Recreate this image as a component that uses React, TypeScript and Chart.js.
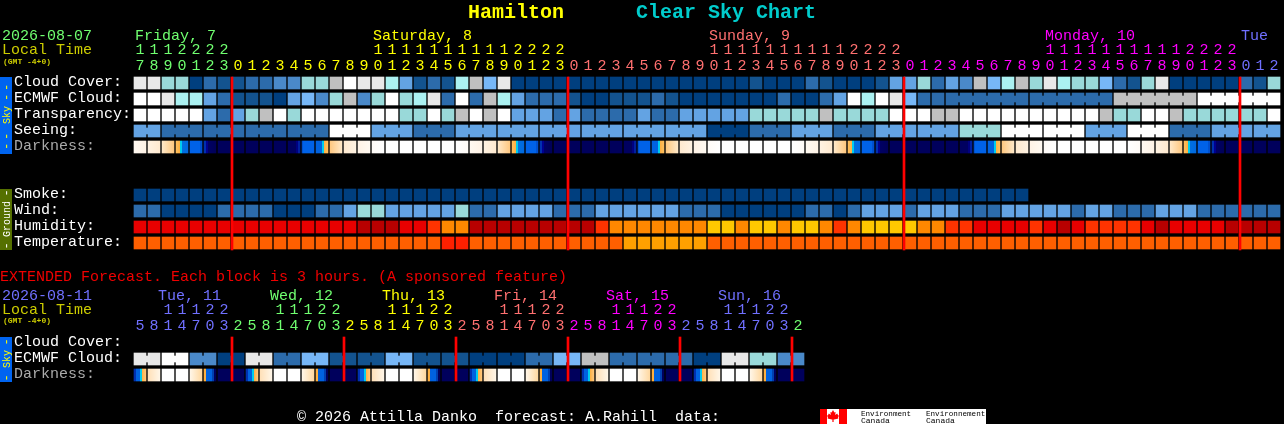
import React, { useEffect, useRef } from "react";
import { Chart, registerables } from "chart.js";

Chart.register(...registerables);

// ---------- data ----------
const hourTens = ["1","1","1","2","2","2","2",
  "","","","","","","","","","","1","1","1","1","1","1","1","1","1","1","2","2","2","2",
  "","","","","","","","","","","1","1","1","1","1","1","1","1","1","1","2","2","2","2",
  "","","","","","","","","","","1","1","1","1","1","1","1","1","1","1","2","2","2","2",
  "","",""];
const hourUnits = ["7","8","9","0","1","2","3",
  "0","1","2","3","4","5","6","7","8","9","0","1","2","3","4","5","6","7","8","9","0","1","2","3",
  "0","1","2","3","4","5","6","7","8","9","0","1","2","3","4","5","6","7","8","9","0","1","2","3",
  "0","1","2","3","4","5","6","7","8","9","0","1","2","3","4","5","6","7","8","9","0","1","2","3",
  "0","1","2"];
const dayNames = ["Friday, 7", "Saturday, 8", "Sunday, 9", "Monday, 10", "Tue"];
const dayNameCols = [0, 17, 41, 65, 79];
const dayStartCols = [0, 7, 31, 55, 79];
const midnightCols = [7, 31, 55, 79];

const skyRowLabels = ["Cloud Cover:", "ECMWF Cloud:", "Transparency:", "Seeing:", "Darkness:"];
const groundRowLabels = ["Smoke:", "Wind:", "Humidity:", "Temperature:"];
const extRowLabels = ["Cloud Cover:", "ECMWF Cloud:", "Darkness:"];

const cloudCover = [9,9,6,6,0,2,1,1,2,2,3,3,6,6,8,10,9,9,7,4,1,2,1,7,8,5,9,
  0,0,0,0,0,0,0,0,0,0,0,0,0,0,0,0,0,1,0,0,0,2,1,0,0,
  0,1,4,4,6,2,4,3,8,5,7,8,6,9,7,6,6,5,2,1,6,9,0,0,0,0,0,2,1,6];
const ecmwfCloud = [10,10,9,7,7,4,2,1,1,1,0,4,5,3,6,8,3,6,10,6,7,9,2,10,2,8,7,
  4,2,2,2,1,0,0,1,1,1,2,1,0,0,0,0,0,0,0,2,0,0,2,4,10,
  7,10,9,5,2,2,2,2,2,2,2,2,2,2,2,2,2,2,8,8,8,8,8,8,10,10,10,10,10,10];
const ecmwfBlocks = [1,1,1,1,1,1,1,1,1,1,1,1,1,1,1,1,1,1,1,1,1,1,1,1,1,1,1,1,1,1,1,1,1,1,1,1,1,1,1,1,1,1,1,1,1,1,1,1,1,1,1,1,1,1,1,1,1,1,6,6,6,6];
const transparency = [10,10,10,10,10,4,2,4,6,8,10,6,10,10,10,10,10,10,10,6,6,10,6,8,10,8,10,
  4,4,4,2,4,2,2,2,2,4,2,2,4,4,4,4,4,6,6,6,6,6,8,6,6,
  6,6,10,10,10,8,8,10,10,10,10,10,10,10,10,10,10,8,6,6,10,10,8,6,6,6,6,6,6,10];
const seeingBlocks = [2,3,3,3,3,3,3,3,3,3,3,3,3,3,3,3,3,3,3,3,3,3,3,3,3,3,3,2];
const seeingBlockLevels = [4,2,2,2,2,10,4,2,4,4,4,4,4,4,0,2,4,2,4,4,6,10,10,4,10,2,4,4];
const darkness = [
  "e1","e2","e3","dusk","blueE","navyE","navy",
  "navy","navy","navy","navy","navyM","blueM","dawn","m3","m2","m1","m0","day","day","day","day","day","e0",
  "e1","e2","e3","dusk","blueE","navyE","navy",
  "navy","navy","navy","navy","navyM","blueM","dawn","m3","m2","m1","m0","day","day","day","day","day","e0",
  "e1","e2","e3","dusk","blueE","navyE","navy",
  "navy","navy","navy","navy","navyM","blueM","dawn","m3","m2","m1","m0","day","day","day","day","day","e0",
  "e1","e2","e3","dusk","blueE","navyE","navy",
  "navy","navy","navy",
];
const smoke = [0,0,0,0,0,0,0,0,0,0,0,0,0,0,0,0,0,0,0,0,0,0,0,0,0,0,0,0,0,0,0,0,
  0,0,0,0,0,0,0,0,0,0,0,0,0,0,0,0,0,0,0,0,0,0,0,0,0,0,0,0,0,0,0,0];
const wind = [2,2,0,0,0,0,2,2,2,2,0,0,0,2,2,4,6,6,4,4,4,4,4,6,2,2,4,4,4,4,2,2,2,4,4,4,4,4,4,2,2,2,
  0,0,0,0,0,0,2,2,0,2,4,4,4,2,4,4,4,2,2,2,4,4,4,4,4,2,4,4,2,2,2,4,4,4,2,2,2,2,2,2];
const humidity = [1,1,1,1,1,1,1,1,1,1,1,1,1,1,1,1,0,0,0,1,1,2,3,3,0,0,0,0,0,0,0,0,0,2,3,3,3,3,3,3,3,
  4,4,3,4,4,3,4,4,3,2,3,4,4,4,4,3,3,2,2,1,1,1,1,2,1,0,1,2,2,2,2,1,0,1,1,1,1,0,0,0,0];
const temperature = [1,1,1,1,1,1,1,1,1,1,1,1,1,1,1,1,1,1,1,1,1,1,0,0,1,1,1,1,1,1,1,1,1,1,1,
  2,2,2,2,2,2,1,1,1,1,1,1,1,1,1,1,1,1,1,1,1,1,1,1,1,1,1,1,1,1,1,1,1,1,1,1,1,1,1,1,1,1,1,1,1,1,1];

const extTens = ["","","1","1","1","2","2","","","","1","1","1","2","2","","","","1","1","1","2","2","",
  "","","1","1","1","2","2","","","","1","1","1","2","2","","","","1","1","1","2","2",""];
const extUnits = ["5","8","1","4","7","0","3","2","5","8","1","4","7","0","3","2","5","8","1","4","7","0","3","2",
  "5","8","1","4","7","0","3","2","5","8","1","4","7","0","3","2","5","8","1","4","7","0","3","2"];
const extDayNames = ["Tue, 11", "Wed, 12", "Thu, 13", "Fri, 14", "Sat, 15", "Sun, 16"];
const extDayNameCols = [1.28, 9.28, 17.28, 25.28, 33.28, 41.28];
const extDayStartCols = [0, 7, 15, 23, 31, 39, 47];
const extMidnightCols = [7, 15, 23, 31, 39, 47];
const extEcmwfLevels = [9,10,3,0,9,2,5,1,1,5,1,1,0,0,2,5,8,2,2,2,0,9,6,3];
const extDarkness = [
  "xDusk","xMorn","day","day","xEve","xDark","navy","navy",
  "xDusk","xMorn","day","day","xEve","xDark","navy","navy",
  "xDusk","xMorn","day","day","xEve","xDark","navy","navy",
  "xDusk","xMorn","day","day","xEve","xDark","navy","navy",
  "xDusk","xMorn","day","day","xEve","xDark","navy","navy",
  "xDusk","xMorn","day","day","xEve","xDark","navy","navy",
];

// ---------- styles ----------
const SKY_COLORS = ["#003F7F","#13538F","#2C6BAB","#4A89C9","#63A3E3","#77B7F7","#99D9D9","#ABF1F1","#C0C0C0","#E8E8E8","#FFFFFF"];
const HUMIDITY_COLORS = ["#B80000","#E80000","#FF3300","#FF8800","#FFC800"];
const TEMPERATURE_COLORS = ["#FF2000","#FF5F00","#FFA000"];
const DAY_COLORS = ["#70FF70","#FFFF00","#FF7070","#FF00FF","#7070FF"];
const EXT_DAY_COLORS = ["#7070FF","#70FF70","#FFFF00","#FF7070","#FF00FF","#7070FF","#70FF70"];

type Stop = [number, string];
const DARK_STOPS: Record<string, Stop[]> = {
  day: [[0,"#FFFFFF"],[1,"#FFFFFF"]],
  navy: [[0,"#00005C"],[1,"#00005C"]],
  e0: [[0,"#FFFFFF"],[1,"#FFFBF7"]],
  e1: [[0,"#FFF9F1"],[1,"#FFF3E6"]],
  e2: [[0,"#FFF2E2"],[1,"#FFEAD0"]],
  e3: [[0,"#FFE8C8"],[1,"#FFC880"]],
  dusk: [[0,"#FFC060"],[0.33,"#FFB040"],[0.33,"#00CCEE"],[0.5,"#00CCEE"],[0.5,"#0070E0"],[1,"#0068E0"]],
  blueE: [[0,"#0062E8"],[0.8,"#0062E8"],[0.8,"#0050D0"],[1,"#0050D0"]],
  navyE: [[0,"#0030B0"],[0.17,"#0030B0"],[0.17,"#000090"],[0.34,"#000090"],[0.34,"#000064"],[1,"#000058"]],
  navyM: [[0,"#000060"],[0.66,"#000060"],[0.66,"#000080"],[0.83,"#000080"],[0.83,"#0020A0"],[1,"#0020A0"]],
  blueM: [[0,"#0050D0"],[0.1,"#0050D0"],[0.1,"#0062E8"],[1,"#0062E8"]],
  dawn: [[0,"#0062E0"],[0.5,"#0062E0"],[0.5,"#00CCEE"],[0.67,"#00CCEE"],[0.67,"#FFB040"],[1,"#FFC060"]],
  m3: [[0,"#FFC880"],[1,"#FFE8C8"]],
  m2: [[0,"#FFEAD0"],[1,"#FFF2E2"]],
  m1: [[0,"#FFF3E6"],[1,"#FFF9F1"]],
  m0: [[0,"#FFFBF7"],[1,"#FFFFFF"]],
  xDusk: [[0,"#0030B0"],[0.17,"#0030B0"],[0.17,"#0062E0"],[0.5,"#0062E0"],[0.5,"#00CCEE"],[0.67,"#00CCEE"],[0.67,"#FFB040"],[1,"#FFC880"]],
  xMorn: [[0,"#FFE0B8"],[1,"#FFF6E8"]],
  xEve: [[0,"#FFF6E8"],[1,"#FFD8A0"]],
  xDark: [[0,"#FFB040"],[0.17,"#FFB040"],[0.17,"#0062E0"],[0.67,"#0062E0"],[0.67,"#0040B0"],[0.83,"#0040B0"],[0.83,"#00005C"],[1,"#00005C"]],
};

const WIDTH = 1284;
const HEIGHT = 424;
const COL_STEP = 14;
const CELL = 12;
const FIRST_CENTER = 140;
const MONO = "'Liberation Mono', monospace";

const SKY_TOPS = [77, 93, 109, 125, 141];
const GROUND_TOPS = [189, 205, 221, 237];
const EXT_TOPS = [337, 353, 369];

// ---------- dataset helpers ----------
type Cell = { x: number; y: [number, number] };

function cellRow(values: number[], top: number, palette: string[]) {
  const data: Cell[] = values.map((_, i) => ({ x: i, y: [top, top + CELL] }));
  return {
    data,
    backgroundColor: values.map((v) => palette[v]),
    barThickness: CELL,
    grouped: false,
    borderWidth: 0,
  };
}

function expandBlocks(levels: number[], blocks: number[]) {
  const out: number[] = [];
  blocks.forEach((n, b) => {
    for (let k = 0; k < n; k++) out.push(levels[b]);
  });
  return out;
}

function connectors(values: number[], blocks: number[], top: number) {
  const data: Cell[] = [];
  const colors: string[] = [];
  let start = 0;
  blocks.forEach((n) => {
    for (let k = 0; k < n - 1; k++) {
      data.push({ x: start + k + 0.5, y: [top + 3, top + 9] });
      colors.push(SKY_COLORS[values[start + k]]);
    }
    start += n;
  });
  return { data, backgroundColor: colors, barThickness: COL_STEP - CELL, grouped: false, borderWidth: 0 };
}

function darknessRow(codes: string[], top: number) {
  return {
    data: codes.map((_, i) => ({ x: i, y: [top, top + CELL] })) as Cell[],
    barThickness: CELL,
    grouped: false,
    borderWidth: 0,
    backgroundColor: (c: any) => {
      const code = codes[c.dataIndex];
      if (!code) return "#000";
      const center = c.chart.scales.x?.getPixelForValue(c.dataIndex);
      if (!Number.isFinite(center)) return "#000";
      const g = c.chart.ctx.createLinearGradient(center - CELL / 2, 0, center + CELL / 2, 0);
      DARK_STOPS[code].forEach(([p, col]) => g.addColorStop(p, col));
      return g;
    },
  };
}

function redLines(cols: number[], top: number, bottom: number) {
  return {
    data: cols.map((c) => ({ x: c - CELL / 2 / COL_STEP, y: [top, bottom] })) as Cell[],
    backgroundColor: "#FF0000",
    barThickness: 2,
    grouped: false,
    borderWidth: 0,
  };
}

// ---------- text and decoration plugin ----------
const chartText = {
  id: "chartText",
  beforeDraw(chart: any) {
    const { ctx } = chart;
    ctx.save();
    ctx.fillStyle = "#000000";
    ctx.fillRect(0, 0, WIDTH, HEIGHT);
    ctx.restore();
  },
  afterDraw(chart: any) {
    const { ctx, scales } = chart;
    const x = scales.x;
    const y = scales.y;
    const text = (s: string, px: number, py: number, color: string, font = `15px ${MONO}`, align: CanvasTextAlign = "left") => {
      ctx.font = font;
      ctx.fillStyle = color;
      ctx.textAlign = align;
      ctx.fillText(s, px, y.getPixelForValue(py));
    };
    const colored = (i: number, starts: number[], colors: string[]) => {
      let k = 0;
      starts.forEach((s, n) => { if (i >= s) k = n; });
      return colors[k];
    };
    ctx.save();
    ctx.textBaseline = "alphabetic";

    // titles
    text("Hamilton", 468, 18, "#FFFF00", `bold 20px ${MONO}`);
    text("Clear Sky Chart", 636, 18, "#00CCCC", `bold 20px ${MONO}`);

    // header of the main table
    text("2026-08-07", 2, 40, DAY_COLORS[0]);
    text("Local Time", 2, 54, "#CCCC00");
    text("(GMT -4+0)", 3, 64, "#CCCC00", `bold 8px ${MONO}`);
    dayNames.forEach((d, n) => text(d, x.getPixelForValue(dayNameCols[n]) - 5, 40, DAY_COLORS[n]));
    hourUnits.forEach((u, i) => {
      const col = colored(i, dayStartCols, DAY_COLORS);
      const cx = x.getPixelForValue(i);
      if (hourTens[i]) text(hourTens[i], cx, 54, col, undefined, "center");
      text(u, cx, 70, col, undefined, "center");
    });

    // row labels
    skyRowLabels.forEach((l, n) => text(l, 14, SKY_TOPS[n] + 9, n === 4 ? "#AAAAAA" : "#FFFFFF"));
    groundRowLabels.forEach((l, n) => text(l, 14, GROUND_TOPS[n] + 9, "#FFFFFF"));

    // extended section
    text("EXTENDED Forecast. Each block is 3 hours. (A sponsored feature)", 0, 281, "#F00000");
    text("2026-08-11", 2, 300, "#7070FF");
    text("Local Time", 2, 314, "#CCCC00");
    text("(GMT -4+0)", 3, 323, "#CCCC00", `bold 8px ${MONO}`);
    extDayNames.forEach((d, n) => text(d, x.getPixelForValue(extDayNameCols[n]), 300, EXT_DAY_COLORS[n]));
    extUnits.forEach((u, i) => {
      const col = colored(i, extDayStartCols, EXT_DAY_COLORS);
      const cx = x.getPixelForValue(i);
      if (extTens[i]) text(extTens[i], cx, 314, col, undefined, "center");
      text(u, cx, 330, col, undefined, "center");
    });
    extRowLabels.forEach((l, n) => text(l, 14, EXT_TOPS[n] + 9, n === 2 ? "#AAAAAA" : "#FFFFFF"));

    // footer
    text("\u00A9 2026 Attilla Danko  forecast: A.Rahill  data:", 297, 421, "#FFFFFF");

    // side bands
    const band = (top: number, bottom: number, color: string) => {
      ctx.fillStyle = color;
      ctx.fillRect(0, top, 12, bottom - top);
    };
    band(77, 154, "#0064F0");
    band(189, 250, "#557000");
    band(337, 382, "#0064F0");
    const vertical = (s: string, center: number, color: string, spacing = "0px", size = 10) => {
      ctx.save();
      ctx.translate(9.5, center);
      ctx.rotate(-Math.PI / 2);
      ctx.font = `${size}px ${MONO}`;
      ctx.fillStyle = color;
      ctx.textAlign = "center";
      (ctx as any).letterSpacing = spacing;
      ctx.fillText(s, 0, 0);
      ctx.restore();
    };
    vertical("--", 91, "#FFFF00", "2.8px", 12);
    vertical("Sky", 115, "#FFFF00");
    vertical("--", 140, "#FFFF00", "2.8px", 12);
    vertical("-", 193, "#FFFFFF", "0px", 12);
    vertical("Ground", 219, "#FFFFFF");
    vertical("-", 246, "#FFFFFF", "0px", 12);
    vertical("-", 342, "#FFFF00", "0px", 12);
    vertical("Sky", 359, "#FFFF00");
    vertical("-", 378, "#FFFF00", "0px", 12);

    // Environment Canada signature
    ctx.fillStyle = "#FFFFFF";
    ctx.fillRect(820, 409, 166, 15);
    ctx.fillStyle = "#FF0000";
    ctx.fillRect(820, 409, 7, 15);
    ctx.fillRect(839, 409, 8, 15);
    const leaf = [[0,-6],[1.4,-3.4],[2.6,-4],[2.2,-1],[4.2,-2.4],[5.2,-0.6],[6,-0.8],[5,2],[5.6,2.6],[1,3.4],[0.6,3.4],[0.6,6],[-0.6,6],[-0.6,3.4],[-1,3.4],[-5.6,2.6],[-5,2],[-6,-0.8],[-5.2,-0.6],[-4.2,-2.4],[-2.2,-1],[-2.6,-4],[-1.4,-3.4]];
    ctx.beginPath();
    leaf.forEach(([a, b], n) => (n ? ctx.lineTo(833 + a, 416 + b) : ctx.moveTo(833 + a, 416 + b)));
    ctx.closePath();
    ctx.fill();
    const sign = `7.6px ${MONO}`;
    ctx.textAlign = "left";
    text("Environment", 861, 416, "#000000", sign);
    text("Canada", 861, 423, "#000000", `8px ${MONO}`);
    text("Environnement", 926, 416, "#000000", sign);
    text("Canada", 926, 423, "#000000", `8px ${MONO}`);
    ctx.restore();
  },
};

export default function App() {
  const ref = useRef<HTMLCanvasElement>(null);
  useEffect(() => {
    document.body.style.margin = "0";
    document.body.style.background = "#000";
    document.body.style.overflow = "hidden";

    const seeing = expandBlocks(seeingBlockLevels, seeingBlocks);
    const extBlocks = extEcmwfLevels.map(() => 2);
    const extEcmwf = expandBlocks(extEcmwfLevels, extBlocks);

    const datasets: any[] = [
      redLines(midnightCols, SKY_TOPS[0], GROUND_TOPS[3] + CELL + 1),
      redLines(extMidnightCols, EXT_TOPS[0], EXT_TOPS[2] + CELL),
      cellRow(cloudCover, SKY_TOPS[0], SKY_COLORS),
      cellRow(ecmwfCloud, SKY_TOPS[1], SKY_COLORS),
      connectors(ecmwfCloud, ecmwfBlocks, SKY_TOPS[1]),
      cellRow(transparency, SKY_TOPS[2], SKY_COLORS),
      cellRow(seeing, SKY_TOPS[3], SKY_COLORS),
      connectors(seeing, seeingBlocks, SKY_TOPS[3]),
      darknessRow(darkness, SKY_TOPS[4]),
      cellRow(smoke, GROUND_TOPS[0], SKY_COLORS),
      cellRow(wind, GROUND_TOPS[1], SKY_COLORS),
      cellRow(humidity, GROUND_TOPS[2], HUMIDITY_COLORS),
      cellRow(temperature, GROUND_TOPS[3], TEMPERATURE_COLORS),
      cellRow(extEcmwf, EXT_TOPS[1], SKY_COLORS),
      connectors(extEcmwf, extBlocks, EXT_TOPS[1]),
      darknessRow(extDarkness, EXT_TOPS[2]),
    ];

    const chart = new Chart(ref.current as HTMLCanvasElement, {
      type: "bar",
      data: { datasets },
      plugins: [chartText],
      options: {
        animation: false,
        responsive: false,
        devicePixelRatio: 1,
        events: [],
        layout: { padding: 0 },
        plugins: { legend: { display: false }, tooltip: { enabled: false } },
        scales: {
          x: {
            type: "linear",
            display: false,
            offset: false,
            min: -FIRST_CENTER / COL_STEP,
            max: (WIDTH - FIRST_CENTER) / COL_STEP,
          },
          y: { type: "linear", display: false, reverse: true, min: 0, max: HEIGHT },
        },
      },
    } as any);
    return () => chart.destroy();
  }, []);
  return (
    <div style={{ position: "fixed", left: 0, top: 0, width: WIDTH, height: HEIGHT, background: "#000" }}>
      <canvas ref={ref} width={WIDTH} height={HEIGHT} style={{ display: "block" }} />
    </div>
  );
}
